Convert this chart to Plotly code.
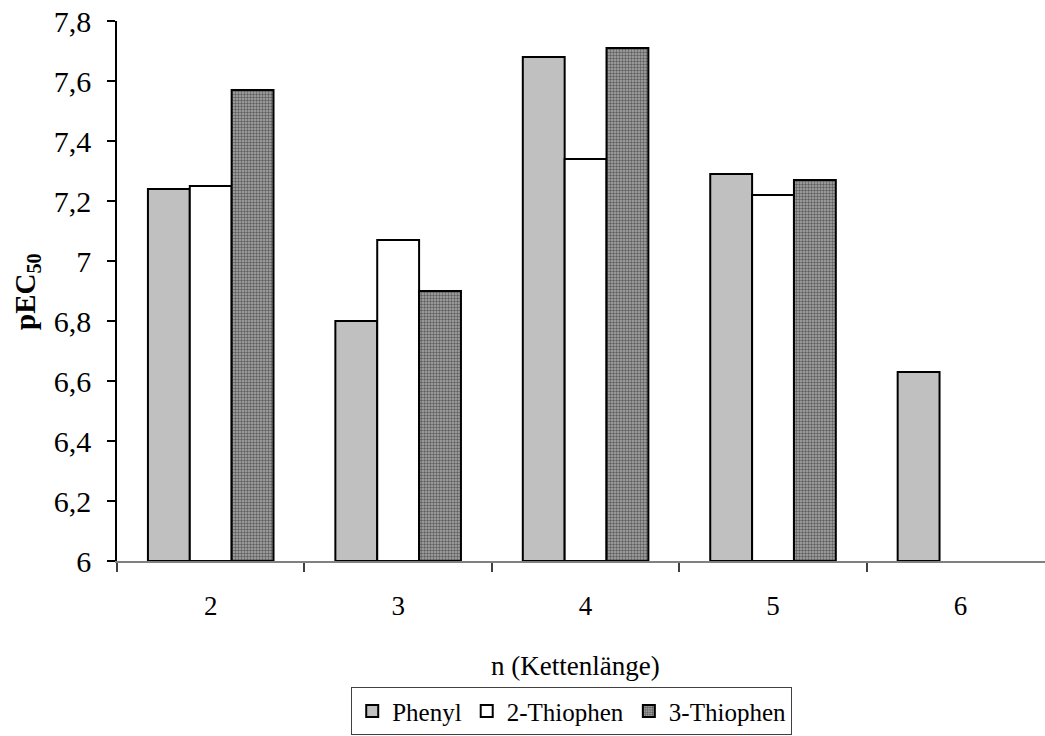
import plotly.graph_objects as go

categories = ["2", "3", "4", "5", "6"]
phenyl = [7.24, 6.80, 7.68, 7.29, 6.63]
thiophen2 = [7.25, 7.07, 7.34, 7.22, None]
thiophen3 = [7.57, 6.90, 7.71, 7.27, None]
y_base = 6

FONT = "Liberation Serif"


def heights(vals):
    return [v - y_base if v is not None else None for v in vals]


fig = go.Figure()
fig.add_trace(go.Bar(name="Phenyl", x=categories, y=heights(phenyl), base=y_base,
                     marker=dict(color="#C0C0C0", line=dict(color="black", width=2))))
fig.add_trace(go.Bar(name="2-Thiophen", x=categories, y=heights(thiophen2), base=y_base,
                     marker=dict(color="#FFFFFF", line=dict(color="black", width=2))))
fig.add_trace(go.Bar(name="3-Thiophen", x=categories, y=heights(thiophen3), base=y_base,
                     marker=dict(color="#8c8c8c", line=dict(color="black", width=2),
                                 pattern=dict(shape=".", size=3, solidity=0.5,
                                              fgcolor="#5e5e5e", bgcolor="#acacac",
                                              fillmode="replace"))))

fig.update_layout(
    width=1045, height=736,
    margin=dict(l=117, r=0, t=21, b=174.5, autoexpand=False),
    paper_bgcolor="white", plot_bgcolor="white",
    separators=",.",
    font=dict(family=FONT, size=27, color="black"),
    barmode="group", bargap=0.33, bargroupgap=0,
    showlegend=True,
    legend=dict(orientation="h", x=0.490, y=-0.3229, xanchor="center", yanchor="bottom",
                xref="paper", yref="paper",
                bordercolor="#404040", borderwidth=1, bgcolor="white",
                font=dict(family=FONT, size=25), itemwidth=30, tracegroupgap=0,
                traceorder="normal"),
    xaxis=dict(type="category", range=[-0.5, 4.451], showline=True, linecolor="#808080", linewidth=1.5,
               ticks="outside", tickson="boundaries", ticklen=9, tickcolor="#404040", tickwidth=1.5,
               ticklabelstandoff=20, automargin=False,
               showgrid=False, zeroline=False, tickfont=dict(size=27)),
    yaxis=dict(range=[6, 7.8], dtick=0.2, tick0=6, showline=True, linecolor="black", linewidth=1.5,
               ticks="outside", ticklen=8, tickcolor="black", tickwidth=1.5,
               ticklabelstandoff=10, automargin=False,
               showgrid=False, zeroline=False, tickfont=dict(size=30)),
    annotations=[
        dict(text="n (Kettenlänge)", xref="paper", yref="paper", x=0.4946, y=-0.195,
             xanchor="center", yanchor="middle", showarrow=False, font=dict(size=27)),
        dict(text="<b>pEC<sub>50</sub></b>", xref="paper", yref="paper", x=-0.097, y=0.5,
             xanchor="center", yanchor="middle", textangle=-90, showarrow=False, font=dict(size=29)),
    ],
)

fig.write_html("out.html")
